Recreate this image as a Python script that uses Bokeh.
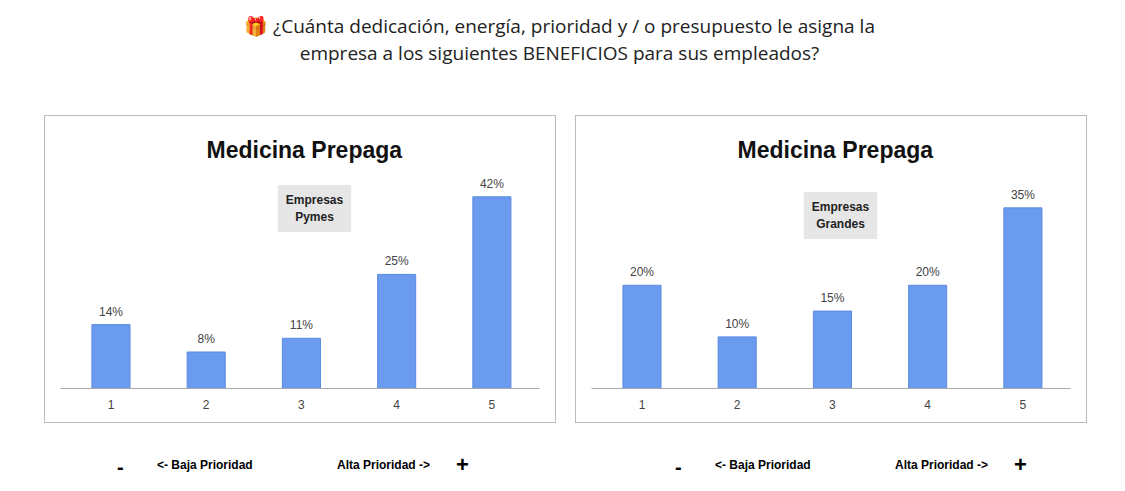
from bokeh.plotting import figure
from bokeh.models import Label, Div, ColumnDataSource, FixedTicker, Spacer
from bokeh.layouts import column, row
from bokeh.embed import file_html
from bokeh.resources import INLINE

cats = [1, 2, 3, 4, 5]
pymes = [14, 8, 11, 25, 42]
grandes = [20, 10, 15, 20, 35]
titles = ["Medicina Prepaga", "Medicina Prepaga"]
boxes = ["Empresas\nPymes", "Empresas\nGrandes"]

def panel(vals, ymax, box, bx, by):
    src = ColumnDataSource(dict(x=cats, y=vals, lab=[f"{v}%" for v in vals]))
    p = figure(width=512, height=308, x_range=(0.47, 5.5), y_range=(0, ymax),
               output_backend="svg", toolbar_location=None,
               min_border_left=15, min_border_right=18, min_border_top=0, min_border_bottom=36)
    p.outline_line_color = None
    p.styles = {"border": "1.5px solid #bbbbbb", "box-sizing": "border-box"}
    p.border_fill_color = "white"
    p.grid.visible = False
    p.yaxis.visible = False
    p.xaxis.ticker = FixedTicker(ticks=cats)
    p.xaxis.major_tick_line_color = None
    p.xaxis.minor_tick_line_color = None
    p.xaxis.axis_line_color = "#aaaaaa"
    p.xaxis.major_label_text_font = "Liberation Sans"
    p.xaxis.major_label_text_font_size = "12px"
    p.xaxis.major_label_text_color = "#444444"
    p.vbar(x="x", top="y", width=0.4, source=src, fill_color="#6a9bef", line_color="#5a8be0")
    p.text(x="x", y="y", text="lab", source=src, text_align="center", text_baseline="bottom",
           y_offset=-6, text_font_size="12px", text_color="#444444")
    p.add_layout(Label(x=146, y=239, x_units="screen", y_units="screen", text="Medicina Prepaga",
                       text_font="Liberation Sans", text_font_style="bold", text_font_size="23px",
                       text_baseline="middle", text_color="#111111"))
    p.add_layout(Label(x=bx, y=by, x_units="screen", y_units="screen", text=box,
                       text_align="center", text_baseline="middle", text_font_style="bold",
                       text_font="Liberation Sans", text_font_size="12px", text_color="#222222",
                       background_fill_color="#e6e6e6", border_line_color=None, padding=8))
    return p

p1 = panel(pymes, 59.6, boxes[0], 254, 180)
p2 = panel(grandes, 52.7, boxes[1], 249, 173)

title = Div(width=1109, height=105, text=(
    "<div style='width:1109px;text-align:center;font-family:\"Open Sans\";font-size:19px;"
    "color:#222;line-height:27px;padding-top:8px'>&#127873; ¿Cuánta dedicación, energía, prioridad y / o presupuesto le asigna la<br>"
    "empresa a los siguientes BENEFICIOS para sus empleados?</div>"))

def lbls(off):
    s = "font-family:\"Liberation Sans\";font-weight:bold;position:absolute;top:"
    return (f"<span style='{s}25px;left:{off+112}px;font-size:20px'>-</span>"
            f"<span style='{s}29px;left:{off+152}px;font-size:12px'>&lt;- Baja Prioridad</span>"
            f"<span style='{s}29px;left:{off+332}px;font-size:12px'>Alta Prioridad -&gt;</span>"
            f"<span style='{s}21px;left:{off+451}px;font-size:22px'>+</span>")

bottom = Div(width=1109, height=60, text=(
    "<div style='position:relative;width:1109px;height:60px'>" + lbls(0) + lbls(558) + "</div>"))

layout = column(title, row(Spacer(width=44), p1, Spacer(width=19), p2), bottom, spacing=0)
open("out.html", "w").write(file_html(layout, INLINE))
